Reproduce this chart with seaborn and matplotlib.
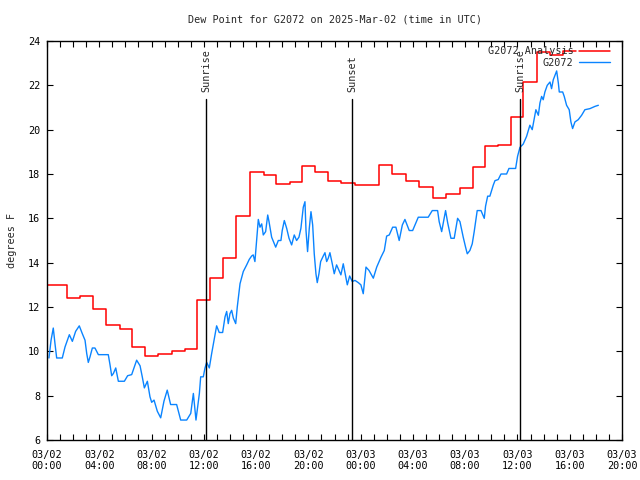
import matplotlib
matplotlib.use("Agg")
import matplotlib.pyplot as plt
import matplotlib.dates as mdates
import seaborn as sns
import pandas as pd

# analysis (hourly step values): hours since 2025-03-02 00:00 UTC
analysis_hours = [0.1, 1.5, 2.55, 3.5, 4.5, 5.55, 6.5, 7.5, 8.5, 9.55, 10.55, 11.5,
                  12.5, 13.5, 14.45, 15.5, 16.6, 17.5, 18.6, 19.5, 20.5, 21.5, 22.5,
                  23.6, 25.4, 26.4, 27.5, 28.5, 29.5, 30.5, 31.6, 32.6, 33.5, 34.5,
                  35.5, 36.45, 37.5, 38.5, 39.5, 40.5]
analysis_vals = [13.0, 12.4, 12.5, 11.9, 11.2, 11.0, 10.2, 9.8, 9.9, 10.0, 10.1, 12.3,
                 13.3, 14.2, 16.1, 18.1, 17.95, 17.55, 17.65, 18.35, 18.1, 17.7, 17.6,
                 17.5, 18.4, 18.0, 17.7, 17.4, 16.9, 17.1, 17.35, 18.3, 19.25, 19.3,
                 20.55, 22.15, 23.5, 23.35, 23.55, 23.55]

# station observations
obs_hours = [0.15, 0.31, 0.48, 0.61, 0.74, 1.17, 1.38, 1.71, 1.94, 2.19, 2.47, 2.7,
             2.91, 3.04, 3.16, 3.29, 3.47, 3.67, 3.93, 4.69, 4.82, 4.95, 5.08, 5.26,
             5.46, 5.92, 6.17, 6.48, 6.86, 7.12, 7.29, 7.45, 7.68, 7.88, 8.01, 8.19,
             8.44, 8.7, 8.95, 9.2, 9.46, 9.92, 10.23, 10.69, 11.0, 11.2, 11.32, 11.4,
             11.66, 11.76, 11.96, 12.09, 12.22, 12.42, 12.6, 12.78, 12.98, 13.18, 13.44,
             13.62, 13.75, 13.87, 14.0, 14.13, 14.26, 14.44, 14.56, 14.77, 15.02, 15.28,
             15.48, 15.66, 15.78, 15.91, 16.04, 16.17, 16.3, 16.43, 16.55, 16.73, 16.89,
             16.99, 17.19, 17.5, 17.7, 17.9, 18.0, 18.16, 18.34, 18.52, 18.72, 18.92,
             19.1, 19.28, 19.43, 19.61, 19.74, 19.82, 19.94, 20.07, 20.2, 20.33, 20.45,
             20.58, 20.68, 20.81, 20.94, 21.14, 21.27, 21.4, 21.52, 21.65, 21.83, 21.98,
             22.16, 22.49, 22.67, 22.8, 22.98, 23.16, 23.36, 23.57, 23.82, 24.02, 24.2,
             24.41, 24.64, 24.97, 25.23, 25.56, 25.81, 25.99, 26.19, 26.45, 26.7, 26.95,
             27.19, 27.39, 27.72, 27.98, 28.41, 29.17, 29.48, 29.89, 30.01, 30.2, 30.5,
             30.66, 30.91, 31.16, 31.42, 31.6, 31.85, 32.03, 32.16, 32.36, 32.54, 32.69,
             32.92, 33.21, 33.46, 33.56, 33.72, 33.89, 34.15, 34.28, 34.53, 34.74, 35.17,
             35.35, 35.86, 36.01, 36.19, 36.44, 36.7, 36.95, 37.13, 37.41, 37.6, 37.72,
             37.85, 37.97, 38.1, 38.28, 38.49, 38.61, 38.74, 39.0, 39.13, 39.2, 39.46,
             39.58, 39.76, 39.96, 40.09, 40.22, 40.4, 40.65, 40.91, 41.16, 41.55, 41.93,
             42.19]
obs_vals = [9.7, 10.5, 11.05, 10.35, 9.7, 9.7, 10.2, 10.75, 10.45, 10.9, 11.15, 10.8,
            10.5, 9.9, 9.5, 9.75, 10.15, 10.15, 9.85, 9.85, 9.4, 8.9, 9.0, 9.25,
            8.65, 8.65, 8.9, 8.95, 9.6, 9.35, 8.85, 8.35, 8.65, 7.95, 7.7, 7.8,
            7.3, 7.0, 7.75, 8.25, 7.6, 7.6, 6.9, 6.9, 7.2, 8.1, 7.35, 6.9,
            8.1, 8.85, 8.85, 9.25, 9.5, 9.25, 9.9, 10.5, 11.15, 10.85, 10.85,
            11.55, 11.8, 11.25, 11.7, 11.85, 11.5, 11.25, 12.0, 13.05, 13.6, 13.9,
            14.15, 14.3, 14.35, 14.05, 15.0, 15.95, 15.6, 15.75, 15.25, 15.4, 16.15,
            15.85, 15.15, 14.7, 15.0, 15.0, 15.45, 15.9, 15.55, 15.1, 14.8, 15.25,
            15.0, 15.15, 15.55, 16.5, 16.75, 15.45, 14.5, 15.55, 16.3, 15.7, 14.4,
            13.5, 13.1, 13.5, 14.05, 14.3, 14.45, 14.05, 14.2, 14.45, 13.95, 13.5,
            13.9, 13.45, 13.95, 13.55, 13.0, 13.4, 13.15, 13.2, 13.1, 13.0, 12.6,
            13.8, 13.65, 13.3, 13.8, 14.25, 14.55, 15.2, 15.25, 15.6, 15.6, 15.0,
            15.7, 15.95, 15.45, 15.45, 16.05, 16.05, 16.35, 16.35, 15.85, 15.4, 16.35,
            15.8, 15.1, 15.1, 16.0, 15.85, 15.15, 14.7, 14.4, 14.55, 14.85, 15.4,
            16.35, 16.35, 16.0, 16.55, 17.0, 17.0, 17.5, 17.7, 17.75, 18.0, 18.0,
            18.25, 18.25, 18.8, 19.2, 19.35, 19.7, 20.2, 20.0, 20.9, 20.65, 21.2,
            21.5, 21.35, 21.7, 22.0, 22.15, 21.85, 22.25, 22.65, 22.1, 21.7, 21.7,
            21.5, 21.1, 20.9, 20.35, 20.05, 20.35, 20.45, 20.65, 20.9, 20.95, 21.05,
            21.1]

sun_labels = ["Sunrise", "Sunset", "Sunrise"]
sun_times = ["2025-03-02 12:10", "2025-03-02 23:21", "2025-03-03 12:12"]

base = pd.Timestamp("2025-03-02 00:00")
df_an = pd.DataFrame({"time": base + pd.to_timedelta(analysis_hours, unit="h"),
                      "dewpoint": analysis_vals})
df_obs = pd.DataFrame({"time": base + pd.to_timedelta(obs_hours, unit="h"),
                       "dewpoint": obs_vals})

sns.set_style("ticks")
plt.rcParams["font.family"] = ["DejaVu Sans Mono", "DejaVu Sans"]
plt.rcParams["font.size"] = 7.3

fig = plt.figure(figsize=(6.4, 4.8), dpi=100)
ax = fig.add_axes([47 / 640, 40 / 480, 575 / 640, 399 / 480])

sns.lineplot(data=df_an, x="time", y="dewpoint", ax=ax, color="#ff0000", lw=1.1,
             drawstyle="steps-post", label="G2072 Analysis")
sns.lineplot(data=df_obs, x="time", y="dewpoint", ax=ax, color="#0a84ff", lw=1.0,
             label="G2072")

for lab, t in zip(sun_labels, sun_times):
    t = pd.Timestamp(t)
    ax.axvline(t, ymin=0, ymax=0.854, color="black", lw=1.0)
    ax.text(t, 21.7, lab, rotation=90, ha="center", va="bottom", fontsize=7.3)

ax.set_xlim(base, base + pd.Timedelta(hours=44))
ax.set_ylim(6, 24)
ax.set_yticks(range(6, 25, 2))
ax.xaxis.set_major_locator(mdates.HourLocator(byhour=range(0, 24, 4)))
ax.xaxis.set_minor_locator(mdates.HourLocator())
ax.xaxis.set_major_formatter(mdates.DateFormatter("%m/%d\n%H:%M"))

ax.tick_params(which="both", direction="in", top=True, right=True, length=4,
               width=0.8, color="black", labelsize=7.3, labelcolor="black")
ax.tick_params(axis="x", which="major", pad=7)
ax.tick_params(axis="y", pad=5)
for s in ax.spines.values():
    s.set_color("black")
    s.set_linewidth(1.0)

ax.set_xlabel("")
ax.set_ylabel("degrees F", fontsize=7.3, labelpad=8)
ax.set_title("Dew Point for G2072 on 2025-Mar-02 (time in UTC)", fontsize=7.3, pad=13)

# legend without frame, sample on the right like gnuplot
leg = ax.legend(loc="upper right", bbox_to_anchor=(0.986, 0.9975), frameon=False,
                markerfirst=False, fontsize=7.3, handlelength=3.0, borderaxespad=0,
                labelspacing=0.15, handletextpad=0.6)

fig.savefig("out.png", dpi=100)
